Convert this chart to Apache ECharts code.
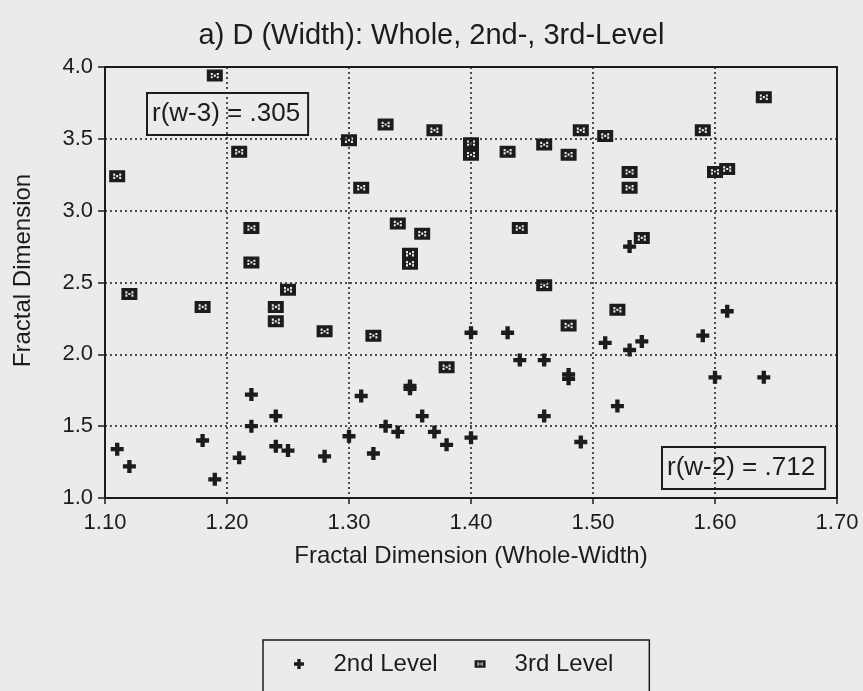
<!DOCTYPE html>
<html>
<head>
<meta charset="utf-8">
<script src="https://cdn.jsdelivr.net/npm/echarts@6/dist/echarts.min.js"></script>
<style>
html,body{margin:0;padding:0;background:#ebebea;}
#chart{width:863px;height:691px;}
</style>
</head>
<body>
<div id="chart"></div>
<script>
// 2nd level points [whole width D, level D]
var secondLevel = [
    [1.11,1.34],[1.12,1.22],[1.18,1.40],[1.19,1.13],[1.21,1.28],[1.22,1.72],
    [1.22,1.50],[1.24,1.57],[1.24,1.36],[1.25,1.33],[1.28,1.29],[1.30,1.43],
    [1.31,1.71],[1.32,1.31],[1.33,1.50],[1.34,1.46],[1.35,1.78],[1.35,1.76],
    [1.36,1.57],[1.37,1.46],[1.38,1.37],[1.40,1.42],[1.40,2.15],[1.43,2.15],
    [1.44,1.96],[1.46,1.96],[1.46,1.57],[1.48,1.86],[1.48,1.83],[1.49,1.39],
    [1.51,2.08],[1.52,1.64],[1.53,2.03],[1.54,2.09],[1.53,2.75],[1.59,2.13],
    [1.60,1.84],[1.61,2.30],[1.64,1.84]
];
// 3rd level points
var thirdLevel = [
    [1.19,3.94],[1.11,3.24],[1.21,3.41],[1.30,3.49],[1.33,3.60],[1.37,3.56],
    [1.40,3.47],[1.40,3.39],[1.31,3.16],[1.22,2.88],[1.34,2.91],[1.36,2.84],
    [1.35,2.70],[1.35,2.63],[1.43,3.41],[1.46,3.46],[1.49,3.56],[1.48,3.39],
    [1.51,3.52],[1.59,3.56],[1.64,3.79],[1.53,3.27],[1.53,3.16],[1.60,3.27],
    [1.61,3.29],[1.44,2.88],[1.54,2.81],[1.22,2.64],[1.12,2.42],[1.18,2.33],
    [1.25,2.45],[1.24,2.33],[1.24,2.23],[1.28,2.16],[1.32,2.13],[1.46,2.48],
    [1.38,1.91],[1.48,2.20],[1.52,2.31]
];
var seriesNames = ['2nd Level','3rd Level'];
var corrLabels = ['r(w-3) = .305','r(w-2) = .712'];

var ink = '#1c1c1c';
var font = '"Liberation Sans", Arial, sans-serif';
var plusPath = 'path://M4,0H8V4H12V8H8V12H4V8H0V4H4Z';
var boxPath = 'path://M0,0H16V11H0Z M4,3V5H6V3Z M10,3V5H12V3Z M4,6V8H6V6Z M10,6V8H12V6Z M7,4.5V6.5H9V4.5Z';

var myChart = echarts.init(document.getElementById('chart'));
var option = {
    backgroundColor: '#ebebea',
    animation: false,
    title: {
        text: 'a) D (Width): Whole, 2nd-, 3rd-Level',
        left: 'center',
        top: 16,
        textStyle: {fontFamily: font, fontSize: 29, fontWeight: 'normal', color: ink}
    },
    grid: {
        left: 105, right: 26, top: 67, bottom: 193,
        show: true, borderColor: ink, borderWidth: 2, backgroundColor: 'transparent'
    },
    xAxis: {
        type: 'value', min: 1.1, max: 1.7, interval: 0.1,
        name: 'Fractal Dimension (Whole-Width)',
        nameLocation: 'middle', nameGap: 46,
        nameTextStyle: {fontFamily: font, fontSize: 24, color: ink},
        axisLine: {lineStyle: {color: ink, width: 2}},
        axisTick: {show: true, length: 6, lineStyle: {color: ink, width: 1.5}},
        axisLabel: {
            fontFamily: font, fontSize: 22, color: ink, margin: 14,
            formatter: function (v) { return v.toFixed(2); }
        },
        splitLine: {show: true, lineStyle: {color: ink, width: 1.5, type: [2, 3]}}
    },
    yAxis: {
        type: 'value', min: 1.0, max: 4.0, interval: 0.5,
        name: 'Fractal Dimension',
        nameLocation: 'middle', nameGap: 70,
        nameTextStyle: {fontFamily: font, fontSize: 24, color: ink, padding: [0, 0, 0, 24]},
        axisLine: {show: true, lineStyle: {color: ink, width: 2}},
        axisTick: {show: true, length: 7, lineStyle: {color: ink, width: 1.5}},
        axisLabel: {
            fontFamily: font, fontSize: 22, color: ink, margin: 12,
            formatter: function (v) { return v.toFixed(1); }
        },
        splitLine: {show: true, lineStyle: {color: ink, width: 1.5, type: [2, 3]}}
    },
    legend: {
        left: 263, top: 640,
        padding: [12, 36, 40, 31],
        borderColor: ink, borderWidth: 1.5,
        itemGap: 37, itemWidth: 11, itemHeight: 10,
        textStyle: {fontFamily: font, fontSize: 24, color: ink, padding: [0, 0, 0, 24]},
        data: [
            {name: seriesNames[0], icon: plusPath},
            {name: seriesNames[1], icon: boxPath}
        ]
    },
    graphic: [
        {
            type: 'text', left: 146, top: 92,
            style: {
                text: corrLabels[0], font: '26px ' + font, fill: ink,
                backgroundColor: '#ebebea', borderColor: ink, borderWidth: 2, padding: [7, 7, 7, 4]
            }
        },
        {
            type: 'text', left: 661, top: 446,
            style: {
                text: corrLabels[1], font: '26px ' + font, fill: ink,
                backgroundColor: '#ebebea', borderColor: ink, borderWidth: 2, padding: [7, 9, 7, 4]
            }
        }
    ],
    series: [
        {
            name: seriesNames[0], type: 'scatter',
            symbol: plusPath, symbolSize: [13, 13],
            itemStyle: {color: ink, opacity: 1},
            data: secondLevel
        },
        {
            name: seriesNames[1], type: 'scatter',
            symbol: boxPath, symbolSize: [16, 12],
            itemStyle: {color: ink, opacity: 1},
            data: thirdLevel
        }
    ]
};
myChart.setOption(option);
</script>
</body>
</html>
